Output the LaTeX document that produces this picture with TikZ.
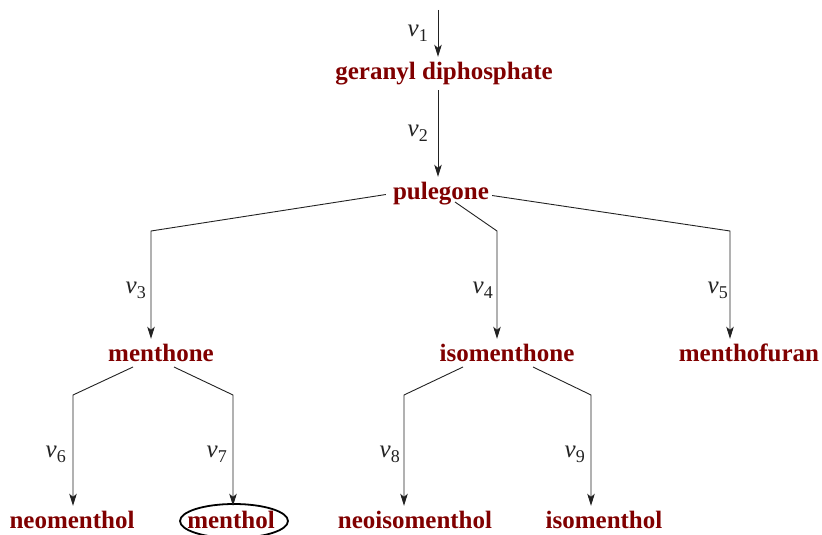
\documentclass[tikz,border=0pt]{standalone}
\usepackage{fontspec}
\setmainfont{Liberation Serif}
\usetikzlibrary{arrows.meta,calc}
\definecolor{chemred}{HTML}{800000}
\definecolor{linegray}{HTML}{222222}
\newcommand{\vlab}[1]{{\fontsize{25}{25}\selectfont\itshape v}\raisebox{-5pt}{\fontsize{18}{18}\selectfont #1}}
\begin{document}
\begin{tikzpicture}[x=1pt,y=-1pt,
  chem/.style={font=\fontsize{25}{25}\selectfont\bfseries, text=chemred, anchor=base,
               text height=17pt, text depth=6pt, inner sep=5pt},
  arr/.style={draw=linegray, line width=0.9pt, -{Stealth[length=12pt,width=7.5pt,inset=3pt]}},
  lab/.style={anchor=base east, inner sep=0pt, text=linegray},
  circled/.style={draw=black, line width=1.8pt}]
\useasboundingbox (0,0) rectangle (822,535);

% nodes
\node[chem] (ger)  at (444,79)  {geranyl diphosphate};
\node[chem] (pul)  at (441,199) {pulegone};
\node[chem] (men)  at (161,361) {menthone};
\node[chem] (isomen) at (507,361) {isomenthone};
\node[chem] (fur)  at (749,361) {menthofuran};
\node[chem] (neo)  at (72,528)  {neomenthol};
\node[chem] (mol)  at (231,528) {menthol};
\node[chem] (neoiso) at (415,528) {neoisomenthol};
\node[chem] (iso)  at (604,528) {isomenthol};

\draw[circled] ($(mol.base)+(3,-7)$) ellipse [x radius=54pt, y radius=17pt];

% coordinates
\coordinate (top) at (438,10);
\coordinate (b3) at (151,231);
\coordinate (b4) at (497,231);
\coordinate (b5) at (730,231);
\coordinate (b6) at (73,395);
\coordinate (b7) at (233,395);
\coordinate (b8) at (404,395);
\coordinate (b9) at (591,395);

% connectors
\draw[arr] (top) -- (ger.north -| top);
\draw[arr] (ger.south -| top) -- (pul.north -| top);
\draw[arr] ($(pul.west)+(-2,1)$) -- (b3) -- (men.north -| b3);
\draw[arr] ($(pul.base)+(14,3)$) -- (b4) -- (isomen.north -| b4);
\draw[arr] ($(pul.east)+(-2,2)$) -- (b5) -- (fur.north -| b5);
\draw[arr] ($(men.base)+(-28,6)$) -- (b6) -- (neo.north -| b6);
\draw[arr] ($(men.base)+(13,6)$) -- (b7) -- (mol.north -| b7);
\draw[arr] ($(isomen.base)+(-44,6)$) -- (b8) -- (neoiso.north -| b8);
\draw[arr] ($(isomen.base)+(26,6)$) -- (b9) -- (iso.north -| b9);

% labels
\node[lab] (l1) at (428,37)  {\vlab{1}};
\node[lab] (l2) at (428,136) {\vlab{2}};
\node[lab] (l3) at (146,293) {\vlab{3}};
\node[lab] (l4) at (493,293) {\vlab{4}};
\node[lab] (l5) at (728,293) {\vlab{5}};
\node[lab] (l6) at (66,457)  {\vlab{6}};
\node[lab] (l7) at (227,457) {\vlab{7}};
\node[lab] (l8) at (400,457) {\vlab{8}};
\node[lab] (l9) at (585,457) {\vlab{9}};
\end{tikzpicture}
\end{document}
